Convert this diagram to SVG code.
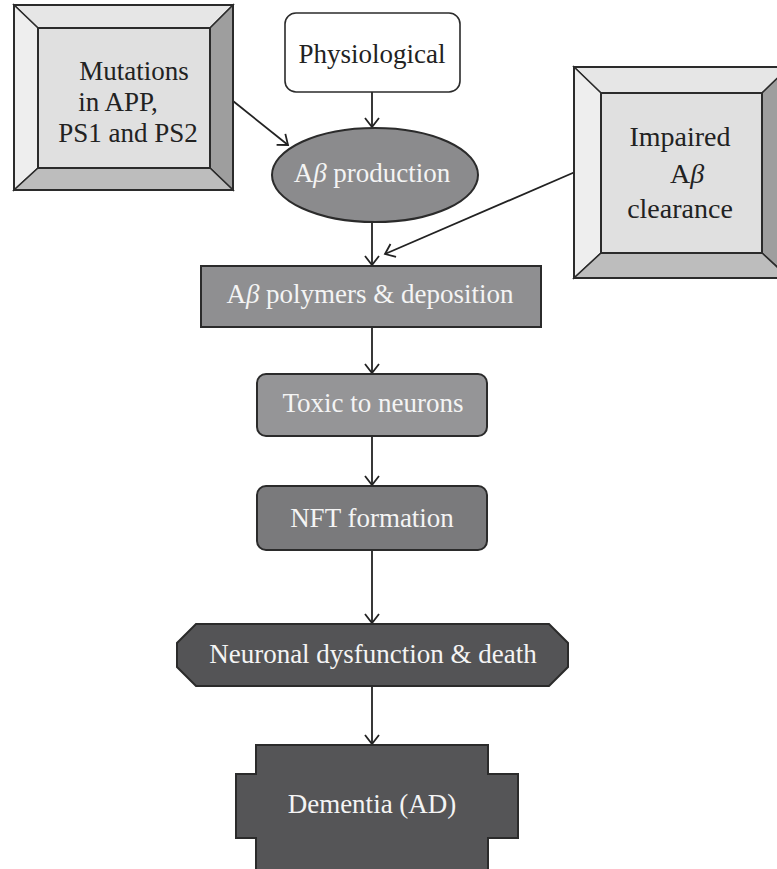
<svg xmlns="http://www.w3.org/2000/svg" width="777" height="869" viewBox="0 0 777 869">
<style>
.t{font-family:"Liberation Serif","DejaVu Serif",serif;text-anchor:middle}
.dk{fill:#222}
.lt{fill:#f4f4f4}
.ol{stroke:#2b2b2b;stroke-width:2;stroke-linejoin:miter}
.fc{stroke:#2b2b2b;stroke-width:1.5}
.cn{stroke:#222;stroke-width:1.8;fill:none}
</style>
<defs>
<marker id="ah" markerUnits="userSpaceOnUse" markerWidth="20" markerHeight="20" viewBox="-10 -10 20 20" refX="0" refY="0" orient="auto">
<path d="M-9,-7 L0,0 L-9,7" fill="none" stroke="#222" stroke-width="1.8"/>
</marker>
</defs>
<rect width="777" height="869" fill="#ffffff"/>

<g id="connectors">
<line class="cn" x1="372" y1="92" x2="372" y2="127" marker-end="url(#ah)"/>
<line class="cn" x1="233" y1="101" x2="288" y2="145" marker-end="url(#ah)"/>
<line class="cn" x1="372" y1="222" x2="372" y2="265" marker-end="url(#ah)"/>
<line class="cn" x1="575" y1="172" x2="385" y2="254" marker-end="url(#ah)"/>
<line class="cn" x1="372" y1="327" x2="372" y2="373" marker-end="url(#ah)"/>
<line class="cn" x1="372" y1="437" x2="372" y2="485" marker-end="url(#ah)"/>
<line class="cn" x1="372" y1="550" x2="372" y2="623" marker-end="url(#ah)"/>
<line class="cn" x1="372" y1="686" x2="372" y2="744" marker-end="url(#ah)"/>
</g>

<g id="mutations">
<polygon class="fc" points="14,5 233,5 210,28 38,28" fill="#e6e6e6"/>
<polygon class="fc" points="14,5 38,28 38,168 14,190" fill="#eeeeee"/>
<polygon class="fc" points="233,5 233,190 210,168 210,28" fill="#9e9e9e"/>
<polygon class="fc" points="14,190 233,190 210,168 38,168" fill="#bdbdbd"/>
<rect class="ol" x="38" y="28" width="172" height="140" fill="#e0e0e0"/>
<rect class="ol" x="14" y="5" width="219" height="185" fill="none"/>
<text class="t dk" font-size="27" x="134" y="80">Mutations</text>
<text class="t dk" font-size="27" x="118" y="111">in APP,</text>
<text class="t dk" font-size="27" x="128" y="142">PS1 and PS2</text>
</g>

<g id="physiological">
<rect x="285" y="13" width="175" height="79" rx="11" fill="#ffffff" stroke="#2b2b2b" stroke-width="1.6"/>
<text class="t dk" font-size="27" x="372" y="63">Physiological</text>
</g>

<g id="impaired">
<polygon class="fc" points="574,67 789,67 762,93 601,93" fill="#e6e6e6"/>
<polygon class="fc" points="574,67 601,93 601,253 574,278" fill="#eeeeee"/>
<polygon class="fc" points="789,67 789,278 762,253 762,93" fill="#9e9e9e"/>
<polygon class="fc" points="574,278 789,278 762,253 601,253" fill="#bdbdbd"/>
<rect class="ol" x="601" y="93" width="161" height="160" fill="#e0e0e0"/>
<rect class="ol" x="574" y="67" width="215" height="211" fill="none"/>
<text class="t dk" font-size="28" x="680" y="146">Impaired</text>
<text class="t dk" font-size="28" x="687" y="183">A<tspan font-style="italic">β</tspan></text>
<text class="t dk" font-size="28" x="680" y="218">clearance</text>
</g>

<g id="production">
<ellipse class="ol" cx="375" cy="175" rx="103" ry="47" fill="#8b8b8d"/>
<text class="t lt" font-size="27" x="372" y="182">A<tspan font-style="italic">β</tspan> production</text>
</g>

<g id="polymers">
<rect class="ol" x="201" y="266" width="340" height="61" fill="#8f8f91"/>
<text class="t lt" font-size="27" x="370" y="303">A<tspan font-style="italic">β</tspan> polymers &amp; deposition</text>
</g>

<g id="toxic">
<rect class="ol" x="257" y="374" width="230" height="62" rx="9" fill="#959597"/>
<text class="t lt" font-size="27" x="373" y="412">Toxic to neurons</text>
</g>

<g id="nft">
<rect class="ol" x="257" y="486" width="230" height="64" rx="9" fill="#7a7a7c"/>
<text class="t lt" font-size="27" x="372" y="527">NFT formation</text>
</g>

<g id="neuronal">
<polygon class="ol" points="196,624 549,624 568,643 568,667 549,686 196,686 177,667 177,643" fill="#545456"/>
<text class="t lt" font-size="27" x="373" y="663">Neuronal dysfunction &amp; death</text>
</g>

<g id="dementia">
<polygon class="ol" points="256,745 488,745 488,774 518,774 518,838 488,838 488,872 256,872 256,838 236,838 236,774 256,774" fill="#555557"/>
<text class="t lt" font-size="27" x="372" y="813">Dementia (AD)</text>
</g>
</svg>
